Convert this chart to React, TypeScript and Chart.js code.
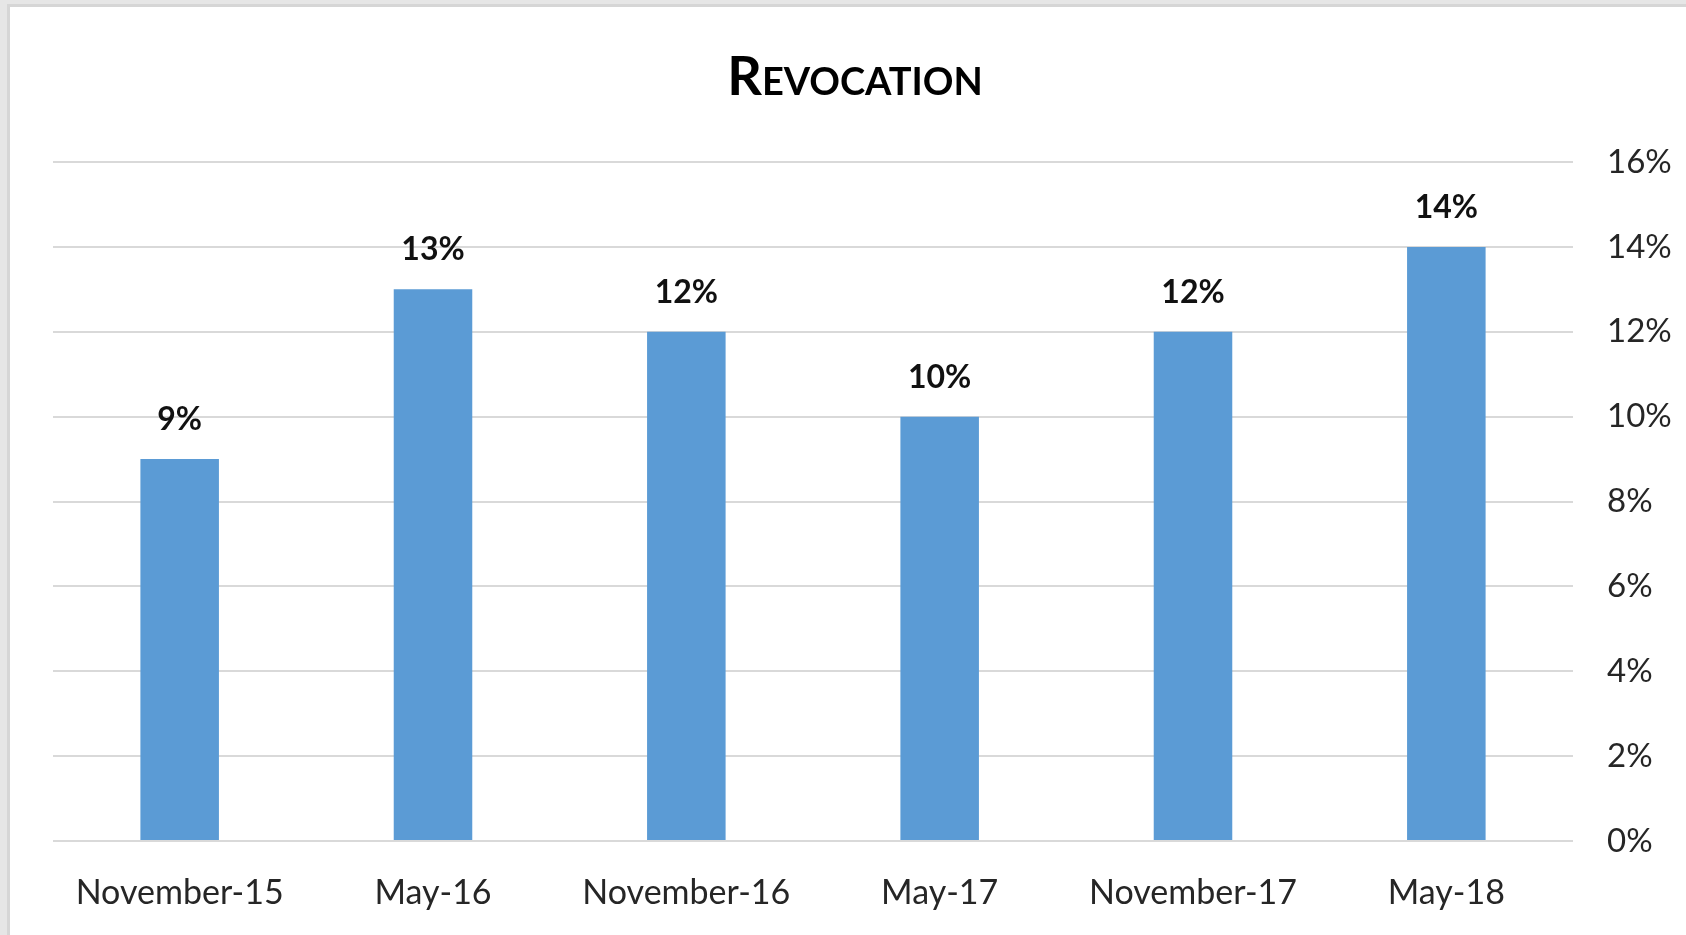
import React, { useEffect, useRef } from "react";
import { Chart, registerables } from "chart.js";

Chart.register(...registerables);

const categories = ["November-15", "May-16", "November-16", "May-17", "November-17", "May-18"];
const revocationValues = [9, 13, 12, 10, 12, 14];
const yTicks = [0, 2, 4, 6, 8, 10, 12, 14, 16];
const titleText = "Revocation";

const FONT = "Lato, 'Open Sans', sans-serif";

const valueLabelPlugin = {
  id: "valueLabels",
  afterDatasetsDraw(chart: any) {
    const ctx = chart.ctx;
    const meta = chart.getDatasetMeta(0);
    ctx.save();
    ctx.font = `bold 32px ${FONT}`;
    ctx.fillStyle = "#111111";
    ctx.textAlign = "center";
    ctx.textBaseline = "alphabetic";
    meta.data.forEach((bar: any, i: number) => {
      ctx.fillText(`${revocationValues[i]}%`, bar.x, bar.y - 29);
    });
    ctx.restore();
  },
};

const titlePlugin = {
  id: "smallCapsTitle",
  afterDraw(chart: any) {
    const ctx = chart.ctx;
    ctx.save();
    ctx.font = `small-caps bold 54px ${FONT}`;
    ctx.fillStyle = "#000000";
    ctx.textAlign = "center";
    ctx.textBaseline = "alphabetic";
    ctx.fillText(titleText, chart.width / 2 + 7, 88);
    ctx.restore();
  },
};

export default function App() {
  const canvasRef = useRef<HTMLCanvasElement | null>(null);

  useEffect(() => {
    if (!canvasRef.current) return;
    const chart = new Chart(canvasRef.current, {
      type: "bar",
      data: {
        labels: categories,
        datasets: [
          {
            label: "Revocation",
            data: revocationValues,
            backgroundColor: "#5B9BD5",
            borderWidth: 0,
            barPercentage: 0.31,
            categoryPercentage: 1,
          },
        ],
      },
      options: {
        animation: false,
        responsive: true,
        maintainAspectRatio: false,
        layout: { padding: { top: 155, left: 43, right: 0, bottom: 0 } },
        plugins: {
          legend: { display: false },
          title: { display: false },
          tooltip: { enabled: false },
        },
        scales: {
          x: {
            grid: { display: false, drawTicks: false },
            border: { display: false },
            ticks: {
              color: "#262626",
              font: { family: FONT, size: 34 },
              padding: 32,
              maxRotation: 0,
              autoSkip: false,
            },
            afterFit: (scale: any) => {
              scale.height = 94;
            },
          },
          y: {
            position: "right",
            min: 0,
            max: 16,
            afterBuildTicks: (scale: any) => {
              scale.ticks = yTicks.map((v) => ({ value: v }));
            },
            grid: { color: "#d9d9d9", lineWidth: 2, drawTicks: false },
            border: { display: false },
            ticks: {
              color: "#262626",
              font: { family: FONT, size: 33 },
              padding: 34,
              callback: (v: any) => `${v}%`,
            },
            afterFit: (scale: any) => {
              scale.width = 113;
            },
          },
        },
      },
      plugins: [valueLabelPlugin, titlePlugin],
    });
    return () => chart.destroy();
  }, []);

  return (
    <div
      style={{
        position: "absolute",
        left: 0,
        top: 0,
        width: 1686,
        height: 935,
        background: "#e6e6e6",
        overflow: "hidden",
      }}
    >
      <div
        style={{
          position: "absolute",
          left: 7,
          top: 4,
          width: 1679,
          height: 931,
          background: "#d6d6d6",
        }}
      >
        <div
          style={{
            position: "absolute",
            left: 3,
            top: 3,
            width: 1676,
            height: 928,
            background: "#ffffff",
          }}
        >
          <canvas ref={canvasRef} />
        </div>
      </div>
    </div>
  );
}
